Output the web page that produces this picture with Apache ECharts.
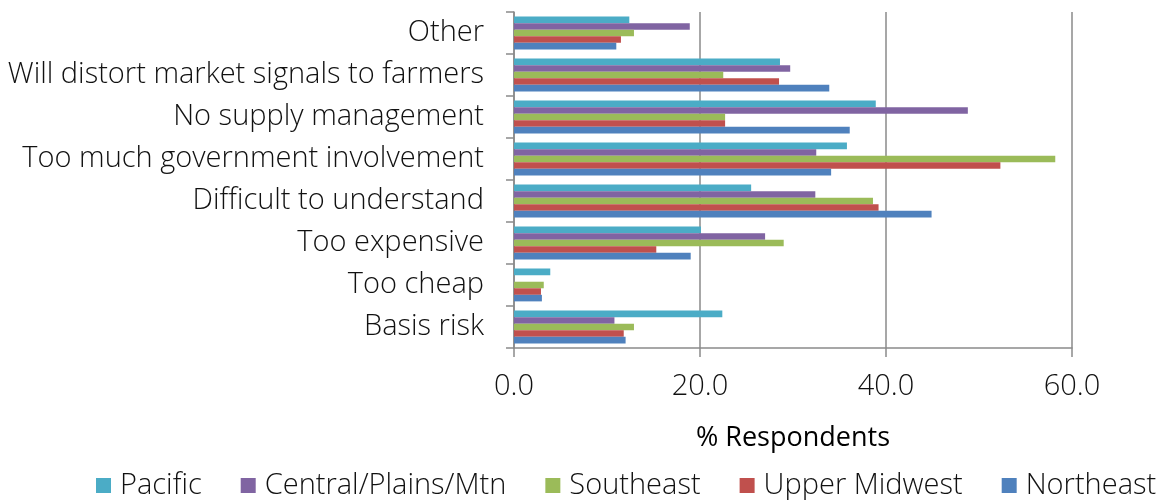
<!DOCTYPE html>
<html>
<head>
<meta charset="utf-8">
<script src="https://cdn.jsdelivr.net/npm/echarts@6/dist/echarts.min.js"></script>
<style>
  html, body { margin: 0; padding: 0; background: #fff; }
  #chart { width: 1160px; height: 500px; }
</style>
</head>
<body>
<div id="chart"></div>
<script>
// categories bottom -> top (ECharts category y axis starts at the bottom)
const categories = ['Basis risk', 'Too cheap', 'Too expensive', 'Difficult to understand',
  'Too much government involvement', 'No supply management', 'Will distort market signals to farmers', 'Other']
const xTicks = [0, 20, 40, 60]

const pacific = [22.4, 3.9, 20.1, 25.5, 35.8, 38.9, 28.6, 12.4]
const central = [10.8, 0, 27.0, 32.4, 32.5, 48.8, 29.7, 18.9]
const southeast = [12.9, 3.2, 29.0, 38.6, 58.2, 22.7, 22.5, 12.9]
const upperMidwest = [11.8, 2.9, 15.3, 39.2, 52.3, 22.7, 28.5, 11.5]
const northeast = [12.0, 3.0, 19.0, 44.9, 34.1, 36.1, 33.9, 11.0]

const seriesNames = ['Pacific', 'Central/Plains/Mtn', 'Southeast', 'Upper Midwest', 'Northeast']
const seriesData = [pacific, central, southeast, upperMidwest, northeast]
const colors = ['#4BACC6', '#8064A2', '#9BBB59', '#C0504D', '#4F81BD']

const font = '"Open Sans", Lato, sans-serif'
const chart = echarts.init(document.getElementById('chart'))

const option = {
  animation: false,
  color: colors,
  textStyle: { fontFamily: font },
  grid: { left: 514, right: 88, top: 12, bottom: 152 },
  legend: {
    top: 471,
    left: 96,
    right: 0,
    padding: 0,
    itemWidth: 15,
    itemHeight: 15,
    itemGap: 39,
    icon: 'rect',
    textStyle: { fontSize: 29, color: '#111', fontFamily: font, fontWeight: 300, padding: [0, 0, 0, 4] },
    data: seriesNames
  },
  xAxis: {
    type: 'value',
    min: xTicks[0],
    max: xTicks[xTicks.length - 1],
    interval: 20,
    name: '% Respondents',
    nameLocation: 'middle',
    nameGap: 77,
    nameTextStyle: { fontSize: 27, color: '#000', fontFamily: font },
    axisLine: { show: true, lineStyle: { color: '#8a8a8a', width: 1.5 } },
    axisTick: { show: true, length: 9, lineStyle: { color: '#8a8a8a', width: 1.5 } },
    axisLabel: {
      fontSize: 29,
      color: '#111',
      fontWeight: 300,
      margin: 24,
      formatter: v => v.toFixed(1)
    },
    splitLine: { show: true, lineStyle: { color: '#8a8a8a', width: 1.5 } }
  },
  yAxis: {
    type: 'category',
    data: categories,
    axisLine: { show: true, lineStyle: { color: '#8a8a8a', width: 1.5 } },
    axisTick: { show: true, length: 8, lineStyle: { color: '#8a8a8a', width: 1.5 } },
    axisLabel: { fontSize: 29, color: '#111', fontWeight: 300, margin: 30 }
  },
  series: seriesNames.map((name, i) => ({
    name: name,
    type: 'bar',
    data: seriesData[i],
    barGap: '0%',
    barCategoryGap: '22%'
  }))
}

chart.setOption(option)
</script>
</body>
</html>
